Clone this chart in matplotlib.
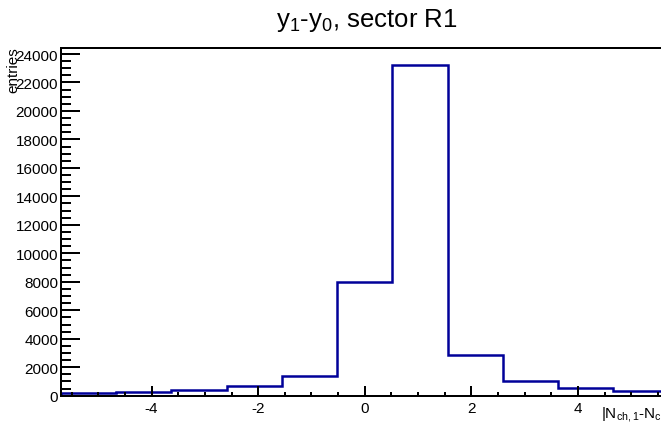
import numpy as np
import matplotlib
matplotlib.use("Agg")
import matplotlib.pyplot as plt
from matplotlib.ticker import MultipleLocator

# data
x_min, x_max, n_bins = -5.7, 5.7, 11
counts = [170, 280, 400, 660, 1380, 7980, 23250, 2870, 1050, 540, 330]
title = r"y$_{1}$-y$_{0}$, sector R1"
xlabel = r"|N$_{\mathrm{ch,1}}$-N$_{\mathrm{ch,0}}$|"
ylabel = "entries"

plt.rcParams['font.family'] = ['Liberation Sans', 'DejaVu Sans']
plt.rcParams['mathtext.fontset'] = 'custom'
plt.rcParams['mathtext.rm'] = 'Liberation Sans'
plt.rcParams['mathtext.it'] = 'Liberation Sans'
plt.rcParams['axes.unicode_minus'] = False

edges = np.linspace(x_min, x_max, n_bins + 1)

fig = plt.figure(figsize=(6.61, 4.31), dpi=100)
ax = fig.add_axes([0.0923, 0.0796, 0.919, 0.806])
ax.stairs(counts, edges, color='#000099', linewidth=1.8)
ax.set_xlim(x_min, x_max)
ax.set_ylim(0, 24400)

ax.xaxis.set_major_locator(MultipleLocator(2))
ax.xaxis.set_minor_locator(MultipleLocator(0.5))
ax.yaxis.set_major_locator(MultipleLocator(2000))
ax.yaxis.set_minor_locator(MultipleLocator(500))

ax.tick_params(axis='both', which='both', direction='in', width=1.44, labelsize=11)
ax.tick_params(axis='y', which='major', length=13.7, pad=2)
ax.tick_params(axis='y', which='minor', length=7.2)
ax.tick_params(axis='x', which='major', length=7.2, pad=4)
ax.tick_params(axis='x', which='minor', length=3.2)
for s in ax.spines.values():
    s.set_linewidth(1.44)

fig.text(367 / 661, 1 - 20 / 431, title, ha='center', va='center', fontsize=18.5)
fig.text(601 / 661, 1 - 418 / 431, xlabel, ha='left', va='baseline', fontsize=11)
fig.text(13 / 661, 1 - 47 / 431, ylabel, ha='center', va='top', rotation=90, fontsize=11)

fig.savefig("out.png", dpi=100)
